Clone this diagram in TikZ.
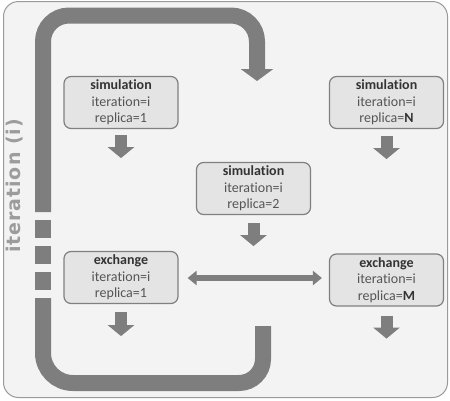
\documentclass[tikz,border=0pt]{standalone}
\usepackage{fontspec}
\setmainfont{Carlito}[Ligatures={NoCommon,NoContextual}]
\newfontfamily\iterfont{DejaVu Sans}[LetterSpace=5]
\usetikzlibrary{arrows.meta}
\definecolor{bgc}{HTML}{F3F3F3}
\definecolor{bdc}{HTML}{9A9A9A}
\definecolor{bandc}{HTML}{7E7E7E}
\definecolor{boxfill}{HTML}{E4E4E4}
\definecolor{boxdraw}{HTML}{808080}
\definecolor{titlec}{HTML}{333333}
\definecolor{txtc}{HTML}{555555}
\definecolor{iterc}{HTML}{9C9C9C}
\tikzset{
  stepbox/.style={draw=boxdraw, fill=boxfill, line width=1.2pt, rounded corners=7pt,
    minimum width=114pt, minimum height=52pt, inner sep=0pt, align=center,
    text=txtc, font=\fontsize{14}{16.5}\selectfont},
  downarrow/.style={draw=bandc, line width=12pt,
    -{Triangle[width=26pt,length=11pt]}},
  band/.style={draw=bandc, line width=16pt, line cap=butt},
}
\begin{document}
\begin{tikzpicture}[x=1pt,y=-1pt]
\useasboundingbox (0,0) rectangle (450,400);
\draw[rounded corners=15pt, fill=bgc, draw=bdc, line width=1pt] (3.5,1.5) rectangle (447.5,397.5);

% loop band
\draw[band, rounded corners=26pt, -{Triangle[width=32pt,length=12pt]}] (43,212) -- (43,15.5) -- (257,15.5) -- (257,81);
\fill[bandc] (35,220) rectangle (51,238);
\fill[bandc] (35,246) rectangle (51,264);
\fill[bandc] (35,272) rectangle (51,290);
\draw[band] (43,298) [rounded corners=30pt] -- (43,383) [rounded corners=24pt] -- (263,383) -- (263,326);

\node[rotate=90, text=iterc, font=\iterfont\bfseries\fontsize{19}{23}\selectfont] (lbl) at (15,186) {iteration (i)};

% boxes
\node[stepbox] (sim1) at (121,102.5) {{\bfseries\color{titlec}simulation}\\iteration=i\\replica=1};
\node[stepbox] (simN) at (386.5,102.5) {{\bfseries\color{titlec}simulation}\\iteration=i\\replica=\textbf{\color{titlec}N}};
\node[stepbox] (sim2) at (253.5,188.5) {{\bfseries\color{titlec}simulation}\\iteration=i\\replica=2};
\node[stepbox] (ex1) at (121,277.5) {{\bfseries\color{titlec}exchange}\\iteration=i\\replica=1};
\node[stepbox] (exM) at (386.5,280) {{\bfseries\color{titlec}exchange}\\iteration=i\\replica=\textbf{\color{titlec}M}};

% down arrows
\draw[downarrow] ([yshift=-6pt]sim1.south) -- ++(0,23);
\draw[downarrow] ([yshift=-7pt]simN.south) -- ++(0,23);
\draw[downarrow] ([yshift=-8pt]sim2.south) -- ++(0,23);
\draw[downarrow] ([yshift=-8pt]ex1.south) -- ++(0,24);
\draw[downarrow] ([yshift=-9pt]exM.south) -- ++(0,23);

% exchange double arrow
\coordinate (dl) at ([xshift=9pt,yshift=-0.5pt]ex1.east);
\coordinate (dr) at (dl -| exM.west);
\draw[draw=bandc, line width=6pt, {Triangle[width=14pt,length=9pt]}-{Triangle[width=14pt,length=9pt]}] (dl) -- ([xshift=-7pt]dr);
\end{tikzpicture}
\end{document}
